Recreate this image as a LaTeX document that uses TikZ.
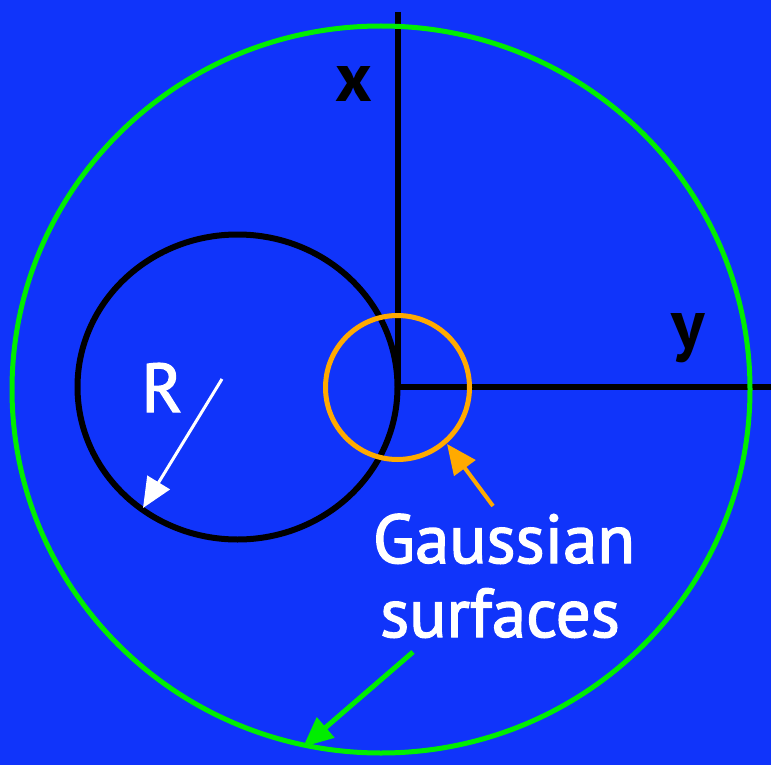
\documentclass[tikz,border=0pt]{standalone}
\usepackage{fontspec}
\setmainfont{PT Sans}
\newfontfamily\labelfont[FakeBold=2]{PT Sans}
\usetikzlibrary{arrows.meta}
\definecolor{bgblue}{RGB}{16,52,250}
\definecolor{gaussgreen}{RGB}{0,238,0}
\definecolor{gaussorange}{RGB}{255,170,0}
\tikzset{
  ptr/.style={-{Triangle[length=30pt,width=26pt]},line width=4pt},
  bigtext/.style={anchor=base,inner sep=0pt,font=\labelfont\fontsize{69}{74}\selectfont},
  axislabel/.style={anchor=base,inner sep=0pt,font=\fontsize{70}{76}\selectfont\bfseries}
}
\begin{document}
\begin{tikzpicture}[x=1pt,y=-1pt]
  \fill[bgblue] (0,0) rectangle (771,765);
  \useasboundingbox (0,0) rectangle (771,765);
  \coordinate (O) at (398,387);
  \coordinate (Xend) at (398,12);
  \coordinate (Yend) at (771,387);
  \draw[line width=6pt] (Xend)--(O)--(Yend);
  \draw[line width=6pt] (237.5,387) ellipse [x radius=160, y radius=152.5];
  \draw[gaussorange,line width=5pt] (397.5,387.5) circle (72);
  \draw[gaussgreen,line width=5pt] (381,389.5) ellipse [x radius=369, y radius=363.5];
  \node[axislabel] (xlab) at (354,102) {x};
  \node[axislabel] (ylab) at (688,348) {y};
  \node[bigtext,white] (rlab) at (162,412) {R};
  \node[bigtext,white] (gauss) at (504,563) {Gaussian};
  \node[bigtext,white] (surf) at (500,637) {surfaces};
  % arrows
  \coordinate (Rtail) at (222,379);
  \coordinate (Rtip) at (143,508);
  \coordinate (Otail) at (493,506);
  \coordinate (Otip) at (447,444);
  \coordinate (Gtail) at (413,652);
  \coordinate (Gtip) at (303,747);
  \draw[ptr,white,line width=3pt] (Rtail)--(Rtip);
  \draw[ptr,gaussorange] (Otail)--(Otip);
  \draw[ptr,gaussgreen,line width=5pt] (Gtail)--(Gtip);
\end{tikzpicture}
\end{document}
